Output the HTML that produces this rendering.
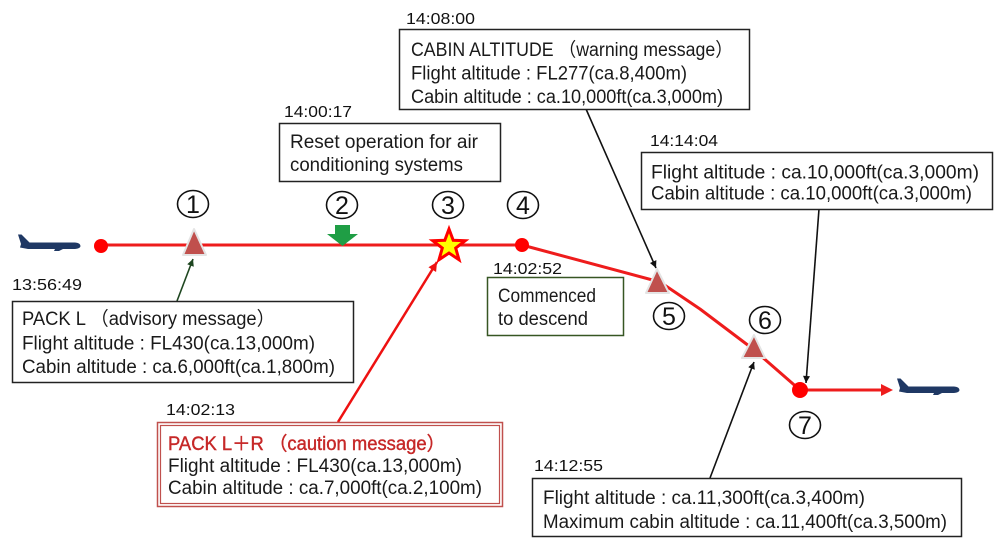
<!DOCTYPE html>
<html><head><meta charset="utf-8">
<style>
html,body{margin:0;padding:0;background:#fff;}
svg{display:block;}
text{font-family:"Liberation Sans","Noto Sans CJK JP",sans-serif;}
.bx{font-size:19px;fill:#1a1a1a;}
.ts{font-size:16px;fill:#111;}
.num{font-size:25px;fill:#111;text-anchor:middle;}
</style></head>
<body>
<svg width="995" height="542" viewBox="0 0 995 542" xmlns="http://www.w3.org/2000/svg">
<defs>
<marker id="ab" viewBox="0 0 10 10" refX="10" refY="5" markerWidth="9" markerHeight="7" markerUnits="userSpaceOnUse" orient="auto"><path d="M0,0 L10,5 L0,10 z" fill="#111"/></marker>
<marker id="ag" viewBox="0 0 10 10" refX="10" refY="5" markerWidth="9" markerHeight="7" markerUnits="userSpaceOnUse" orient="auto"><path d="M0,0 L10,5 L0,10 z" fill="#1e4620"/></marker>
<marker id="ar" viewBox="0 0 10 10" refX="10" refY="5" markerWidth="11" markerHeight="9" markerUnits="userSpaceOnUse" orient="auto"><path d="M0,0 L10,5 L0,10 z" fill="#ee1111"/></marker>
</defs>
<rect width="995" height="542" fill="#fff"/>

<!-- planes -->
<g fill="#1f3864" transform="translate(18,246)">
<path d="M0,-11.5 L3.5,-11.5 L11.5,-3.5 L57,-3.5 Q62.5,-3 62.5,0 Q62.5,2.5 57,3 L45,3 L41,5 L36,5 L37,3 L10,3 L2,1.5 L3,-2 Z"/>
</g>
<g fill="#1f3864" transform="translate(897,390)">
<path d="M0,-11.5 L3.5,-11.5 L11.5,-3.5 L57,-3.5 Q62.5,-3 62.5,0 Q62.5,2.5 57,3 L45,3 L41,5 L36,5 L37,3 L10,3 L2,1.5 L3,-2 Z"/>
</g>

<!-- main flight path -->
<polyline points="101,245 522,245 660,282 700,309 753,349 800,390 884,390" fill="none" stroke="#ee1c1c" stroke-width="3" stroke-linejoin="round"/>
<polygon points="881,384 893,390 881,396" fill="#ee1c1c"/>
<circle cx="101" cy="246" r="7" fill="#ff0000"/>
<circle cx="522" cy="245" r="7" fill="#ff0000"/>
<circle cx="800" cy="390" r="8" fill="#ff0000"/>

<!-- triangles -->
<polygon points="194,229 183,255 206,255" fill="#c0504d" stroke="#e4e4e4" stroke-width="2" stroke-linejoin="round"/>
<polygon points="657,269 646,293 669,293" fill="#c0504d" stroke="#e4e4e4" stroke-width="2" stroke-linejoin="round"/>
<polygon points="754,335 742,358 765,358" fill="#c0504d" stroke="#e4e4e4" stroke-width="2" stroke-linejoin="round"/>

<!-- green arrow -->
<polygon points="335,225 350,225 350,234 358,234 342.5,246 327,234 335,234" fill="#1f9e45"/>

<!-- star -->
<polygon points="449,229 453.2,240.3 465.2,240.7 455.7,248.1 459,259.7 449,253 439,259.7 442.3,248.1 432.8,240.7 444.8,240.3" fill="#ffff00" stroke="#ff0000" stroke-width="3" stroke-linejoin="miter"/>

<!-- circled numbers -->
<g fill="none" stroke="#111" stroke-width="1.6">
<ellipse cx="193" cy="204" rx="15.5" ry="13.5"/>
<ellipse cx="342" cy="205" rx="15.5" ry="13.5"/>
<ellipse cx="448" cy="205" rx="15.5" ry="13.5"/>
<ellipse cx="523" cy="205" rx="15.5" ry="13.5"/>
<ellipse cx="669" cy="316" rx="15.5" ry="13.5"/>
<ellipse cx="765" cy="320" rx="15.5" ry="13.5"/>
<ellipse cx="805" cy="425" rx="15.5" ry="13.5"/>
</g>
<text class="num" x="193" y="213">1</text>
<text class="num" x="342" y="214">2</text>
<text class="num" x="448" y="214">3</text>
<text class="num" x="523" y="214">4</text>
<text class="num" x="669" y="325">5</text>
<text class="num" x="765" y="329">6</text>
<text class="num" x="805" y="434">7</text>

<!-- connectors -->
<line x1="177" y1="301" x2="193" y2="259" stroke="#1e4620" stroke-width="1.6" marker-end="url(#ag)"/>
<line x1="586" y1="109" x2="656" y2="268" stroke="#111" stroke-width="1.6" marker-end="url(#ab)"/>
<line x1="819" y1="209" x2="806" y2="383" stroke="#111" stroke-width="1.6" marker-end="url(#ab)"/>
<line x1="710" y1="478" x2="754" y2="362" stroke="#111" stroke-width="1.6" marker-end="url(#ab)"/>
<line x1="338" y1="422" x2="437" y2="262" stroke="#ee1111" stroke-width="2.5" marker-end="url(#ar)"/>

<!-- boxes -->
<g fill="#fff" stroke="#222" stroke-width="1.5">
<rect x="12.5" y="301.5" width="341" height="81"/>
<rect x="279.5" y="123.5" width="221" height="58"/>
<rect x="399.5" y="29.5" width="350" height="80"/>
<rect x="641.5" y="152.5" width="351" height="57"/>
<rect x="532.5" y="478.5" width="429" height="58"/>
</g>
<rect x="487.5" y="277.5" width="136" height="58" fill="#fff" stroke="#375623" stroke-width="1.5"/>
<rect x="157.5" y="422.5" width="345" height="84" fill="#fff" stroke="#c0504d" stroke-width="1.5"/>
<rect x="160.5" y="425.5" width="339" height="78" fill="none" stroke="#c0504d" stroke-width="1.2"/>

<!-- box texts -->
<text class="bx" x="22" y="325" textLength="253" lengthAdjust="spacingAndGlyphs">PACK L （advisory message）</text>
<text class="bx" x="22" y="349.5" textLength="293" lengthAdjust="spacingAndGlyphs">Flight altitude : FL430(ca.13,000m)</text>
<text class="bx" x="22" y="373" textLength="313" lengthAdjust="spacingAndGlyphs">Cabin altitude : ca.6,000ft(ca.1,800m)</text>

<text class="bx" x="290" y="148" textLength="188" lengthAdjust="spacingAndGlyphs">Reset operation for air</text>
<text class="bx" x="290" y="171" textLength="173" lengthAdjust="spacingAndGlyphs">conditioning systems</text>

<text class="bx" x="411" y="56" textLength="322" lengthAdjust="spacingAndGlyphs">CABIN  ALTITUDE （warning message）</text>
<text class="bx" x="411" y="79.5" textLength="276" lengthAdjust="spacingAndGlyphs">Flight altitude : FL277(ca.8,400m)</text>
<text class="bx" x="411" y="103" textLength="312" lengthAdjust="spacingAndGlyphs">Cabin altitude : ca.10,000ft(ca.3,000m)</text>

<text class="bx" x="651" y="178.5" textLength="328" lengthAdjust="spacingAndGlyphs">Flight altitude : ca.10,000ft(ca.3,000m)</text>
<text class="bx" x="651" y="199.5" textLength="321" lengthAdjust="spacingAndGlyphs">Cabin altitude : ca.10,000ft(ca.3,000m)</text>

<text class="bx" x="543" y="504" textLength="322" lengthAdjust="spacingAndGlyphs">Flight altitude : ca.11,300ft(ca.3,400m)</text>
<text class="bx" x="543" y="528" textLength="404" lengthAdjust="spacingAndGlyphs">Maximum cabin altitude : ca.11,400ft(ca.3,500m)</text>

<text class="bx" x="168" y="450" textLength="277" lengthAdjust="spacingAndGlyphs" style="fill:#c62828;stroke:#c62828;stroke-width:0.4">PACK L＋R （caution message）</text>
<text class="bx" x="168" y="472" textLength="294" lengthAdjust="spacingAndGlyphs">Flight altitude : FL430(ca.13,000m)</text>
<text class="bx" x="168" y="494" textLength="314" lengthAdjust="spacingAndGlyphs">Cabin altitude : ca.7,000ft(ca.2,100m)</text>

<text class="bx" x="498" y="302" textLength="98" lengthAdjust="spacingAndGlyphs">Commenced</text>
<text class="bx" x="498" y="325" textLength="90" lengthAdjust="spacingAndGlyphs">to descend</text>

<!-- timestamps -->
<text class="ts" x="12" y="290" textLength="70" lengthAdjust="spacingAndGlyphs">13:56:49</text>
<text class="ts" x="284" y="117" textLength="68" lengthAdjust="spacingAndGlyphs">14:00:17</text>
<text class="ts" x="406" y="24" textLength="69" lengthAdjust="spacingAndGlyphs">14:08:00</text>
<text class="ts" x="650" y="146" textLength="68" lengthAdjust="spacingAndGlyphs">14:14:04</text>
<text class="ts" x="493" y="274" textLength="69" lengthAdjust="spacingAndGlyphs">14:02:52</text>
<text class="ts" x="166" y="415" textLength="69" lengthAdjust="spacingAndGlyphs">14:02:13</text>
<text class="ts" x="534" y="471" textLength="69" lengthAdjust="spacingAndGlyphs">14:12:55</text>
</svg>
</body></html>
